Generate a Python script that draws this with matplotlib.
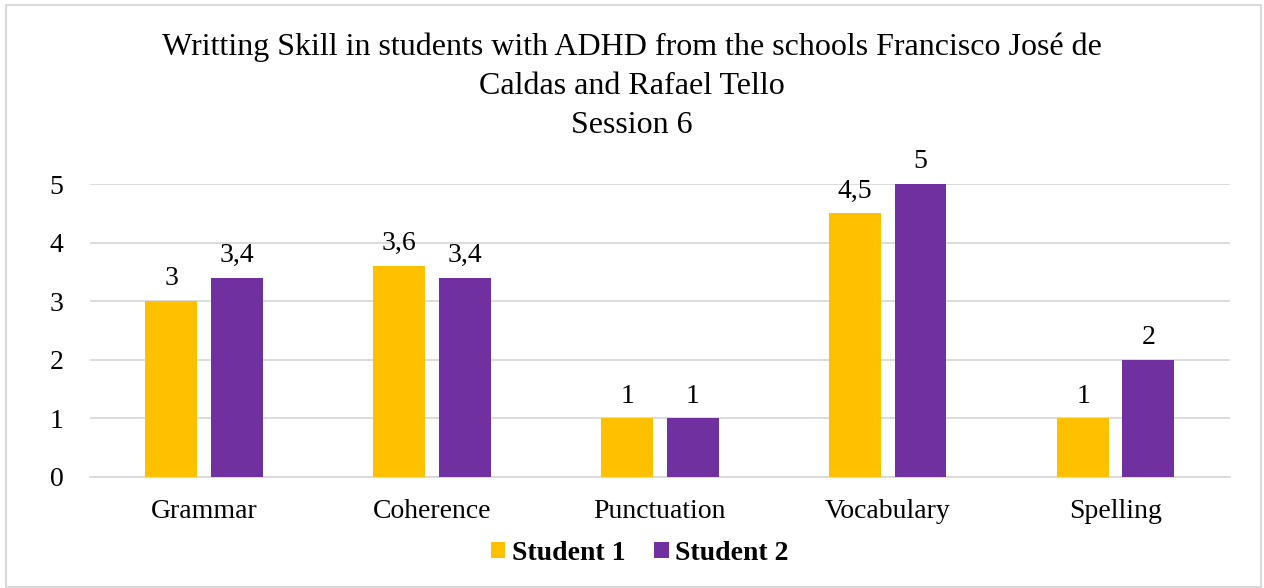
import numpy as np
import matplotlib.pyplot as plt
from matplotlib.patches import Rectangle

plt.rcParams['font.family'] = ['Liberation Serif', 'DejaVu Serif']

categories = ['Grammar', 'Coherence', 'Punctuation', 'Vocabulary', 'Spelling']
student1 = [3, 3.6, 1, 4.5, 1]
student2 = [3.4, 3.4, 1, 5, 2]
series_names = ['Student 1', 'Student 2']
colors = ['#FFC000', '#7030A0']

fig = plt.figure(figsize=(12.64, 5.88), dpi=100)
ax = fig.add_axes([0.0712, 0.1888, 0.9018, 0.4982])

x = np.arange(len(categories))
w = 0.228
off = 0.143
for vals, name, c, sgn in zip([student1, student2], series_names, colors, [-1, 1]):
    bars = ax.bar(x + sgn * off, vals, w, color=c, label=name, zorder=3)
    labels = [('%g' % v).replace('.', ',') for v in vals]
    ax.bar_label(bars, labels=labels, padding=7, fontsize=20)

ax.set_xlim(-0.5, len(categories) - 0.5)
ax.set_ylim(0, 5)
ax.set_yticks(range(0, 6))
ax.set_xticks(x)
ax.set_xticklabels(categories)
ax.tick_params(length=0, labelsize=20)
ax.tick_params(axis='x', pad=16)
ax.tick_params(axis='y', pad=19)
ax.grid(axis='y', color='#d9d9d9', linewidth=1.3, zorder=0)
for s in ['top', 'left', 'right']:
    ax.spines[s].set_visible(False)
ax.spines['bottom'].set_color('#d9d9d9')
ax.spines['bottom'].set_linewidth(1.3)

fig.text(0.5, 0.944, 'Writting Skill in students with ADHD from the schools Francisco José de\nCaldas and Rafael Tello\nSession 6',
         ha='center', va='top', fontsize=23, linespacing=1.44)

leg = fig.legend(loc='center', bbox_to_anchor=(0.506, 0.059), ncol=2, frameon=False,
                 prop={'weight': 'bold', 'size': 20}, handlelength=0.52, handleheight=0.52,
                 handletextpad=0.22, columnspacing=1.05)

fig.patches.append(Rectangle((0.005, 0.002), 0.993, 0.99, transform=fig.transFigure,
                             fill=False, edgecolor='#d9d9d9', linewidth=1.5))

fig.savefig('out.png', dpi=100)
